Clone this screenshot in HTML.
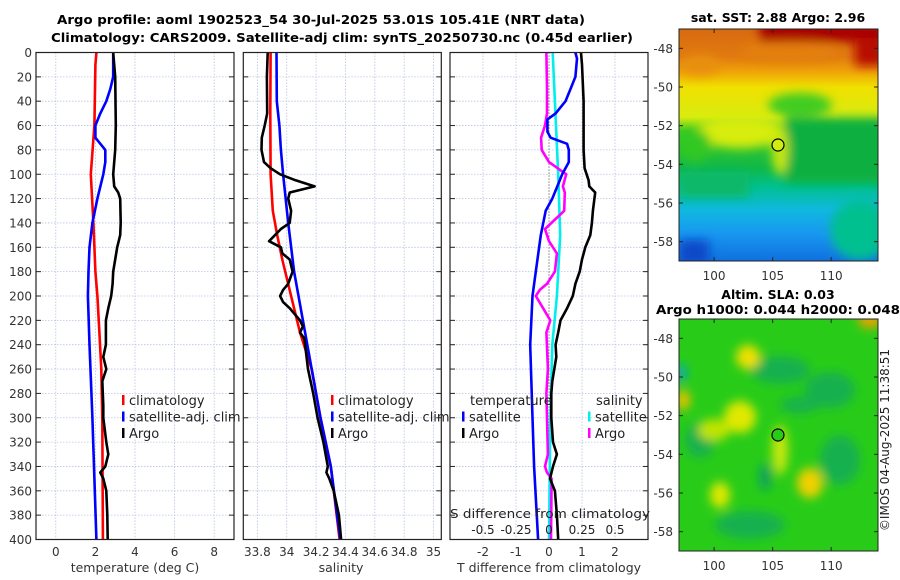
<!DOCTYPE html>
<html><head><meta charset="utf-8"><style>
html,body{margin:0;padding:0;background:#fff;}
svg{display:block;font-family:"DejaVu Sans","Liberation Sans",sans-serif;}
</style></head><body>
<svg id="fig" width="900" height="580" viewBox="0 0 900 580" xmlns="http://www.w3.org/2000/svg">
<defs>
<linearGradient id="sstGrad" x1="0" y1="0" x2="0" y2="1">
<stop offset="0" stop-color="#d86a10"/><stop offset="0.12" stop-color="#e07a10"/><stop offset="0.19" stop-color="#f0a808"/>
<stop offset="0.25" stop-color="#f0e000"/><stop offset="0.38" stop-color="#d8ec10"/><stop offset="0.44" stop-color="#40cc20"/>
<stop offset="0.6" stop-color="#10b848"/><stop offset="0.68" stop-color="#00c090"/><stop offset="0.78" stop-color="#10b8e0"/>
<stop offset="0.88" stop-color="#1898f0"/><stop offset="1" stop-color="#1070e0"/>
</linearGradient>
<clipPath id="clipMap1"><rect x="679" y="29" width="199" height="232"/></clipPath>
<clipPath id="clipMap2"><rect x="679" y="319" width="199" height="232"/></clipPath>
<filter id="blur4" x="-20%" y="-20%" width="140%" height="140%"><feGaussianBlur stdDeviation="5"/></filter>
</defs>
<g id="titles" font-weight="bold" font-size="12.5" text-anchor="middle">
<text x="321" y="24" textLength="528" lengthAdjust="spacingAndGlyphs">Argo profile: aoml 1902523_54 30-Jul-2025 53.01S 105.41E (NRT data)</text>
<text x="342" y="42" textLength="582" lengthAdjust="spacingAndGlyphs">Climatology: CARS2009. Satellite-adj clim: synTS_20250730.nc (0.45d earlier)</text>
<text x="778" y="22">sat. SST: 2.88 Argo: 2.96</text>
<text x="778" y="299">Altim. SLA: 0.03</text>
<text x="778" y="314" textLength="244" lengthAdjust="spacingAndGlyphs">Argo h1000: 0.044 h2000: 0.048</text>
</g>
<g id="panels"></g>
<g id="maps">
<g clip-path="url(#clipMap1)">
<rect x="679" y="29" width="199" height="232" fill="url(#sstGrad)"/>
<g filter="url(#blur4)">
<rect x="760" y="22" width="125" height="20" fill="#a80000"/>
<rect x="855" y="38" width="30" height="28" fill="#b80a00"/>
<ellipse cx="790" cy="52" rx="50" ry="10" fill="#e48010"/>
<ellipse cx="700" cy="65" rx="20" ry="10" fill="#e89010"/>
<ellipse cx="800" cy="105" rx="32" ry="12" fill="#40cc20"/>
<rect x="785" y="118" width="100" height="65" fill="#10b040"/>
<ellipse cx="740" cy="132" rx="45" ry="16" fill="#d8ec10"/>
<ellipse cx="695" cy="145" rx="16" ry="16" fill="#30c820"/>
<ellipse cx="780" cy="150" rx="8" ry="25" fill="#c8e810"/>
<rect x="679" y="172" width="70" height="25" fill="#10b868"/>
<ellipse cx="860" cy="230" rx="30" ry="30" fill="#00c090"/>
<rect x="679" y="240" width="30" height="25" fill="#0848c8"/>
</g>
</g>
<rect x="679" y="29" width="199" height="232" fill="none" stroke="#222" stroke-width="1"/>
<g clip-path="url(#clipMap2)">
<rect x="679" y="319" width="199" height="232" fill="#28cc18"/>
<g filter="url(#blur4)">
<ellipse cx="780" cy="370" rx="30" ry="14" fill="#18b050"/>
<ellipse cx="830" cy="390" rx="25" ry="18" fill="#18b050"/>
<ellipse cx="700" cy="440" rx="15" ry="18" fill="#18b050"/>
<ellipse cx="840" cy="460" rx="20" ry="25" fill="#18b050"/>
<ellipse cx="750" cy="525" rx="35" ry="14" fill="#18b050"/>
<ellipse cx="765" cy="477" rx="6" ry="14" fill="#10a060"/>
<ellipse cx="748" cy="357" rx="12" ry="12" fill="#f0e000"/>
<ellipse cx="740" cy="417" rx="16" ry="16" fill="#e0e800"/>
<ellipse cx="714" cy="430" rx="16" ry="11" fill="#c0e400"/>
<ellipse cx="810" cy="483" rx="13" ry="15" fill="#f0d000"/>
<ellipse cx="720" cy="495" rx="10" ry="13" fill="#e0e800"/>
<ellipse cx="683" cy="400" rx="7" ry="10" fill="#f0c000"/>
<ellipse cx="780" cy="450" rx="8" ry="25" fill="#c8e810"/>
<ellipse cx="870" cy="320" rx="12" ry="8" fill="#f0a000"/>
<ellipse cx="681" cy="373" rx="5" ry="9" fill="#10a0d0"/>
<ellipse cx="800" cy="405" rx="20" ry="8" fill="#18b050"/>
</g>
</g>
<rect x="679" y="319" width="199" height="232" fill="none" stroke="#222" stroke-width="1"/>
<circle cx="778" cy="145" r="6" fill="#d0ec10" stroke="#000" stroke-width="1.2"/>
<circle cx="778" cy="435" r="6" fill="#28cc18" stroke="#000" stroke-width="1.2"/>
<text x="889" y="440" font-size="12" fill="#222" text-anchor="middle" transform="rotate(-90 889 440)">©IMOS 04-Aug-2025 11:38:51</text>
</g>
<g id="mapaxes" font-size="12" fill="#333"></g>
</svg>
<script>
// ---- data (depth in m) ----
const tClimDepth = [0,10,60,100,140,180,200,230,260,300,400];
const tClimVal   = [2.05,2.0,1.95,1.77,1.9,2.0,2.1,2.2,2.3,2.35,2.38];
const tSatDepth  = [0,20,30,40,50,60,70,80,90,100,120,140,160,180,200,240,300,400];
const tSatVal    = [2.9,2.9,2.75,2.55,2.25,2.0,2.0,2.5,2.5,2.4,2.1,1.85,1.7,1.65,1.62,1.7,1.85,2.05];
const tArgoDepth = [0,20,60,80,100,110,115,120,140,150,160,170,180,190,200,210,220,240,250,260,270,290,300,320,330,340,345,350,360,380,400];
const tArgoVal   = [2.9,3.0,3.03,3.0,2.9,2.95,3.15,3.25,3.28,3.25,3.1,3.0,2.9,2.87,2.8,2.65,2.53,2.53,2.4,2.55,2.35,2.4,2.4,2.55,2.65,2.5,2.25,2.4,2.55,2.6,2.62];
const sClimDepth = [0,50,100,130,150,170,200,230,260,300,340,400];
const sClimVal   = [33.89,33.888,33.89,33.905,33.935,33.97,34.03,34.09,34.17,34.23,34.3,34.36];
const sSatDepth  = [0,40,60,80,100,140,180,220,260,300,340,400];
const sSatVal    = [33.93,33.932,33.95,33.96,33.975,34.01,34.05,34.11,34.17,34.23,34.3,34.365];
const sArgoDepth = [0,20,50,60,70,80,90,95,100,105,110,115,120,130,140,145,155,160,165,170,180,190,195,200,205,210,220,225,230,235,260,280,300,320,340,345,350,360,380,400];
const sArgoVal   = [33.87,33.865,33.867,33.85,33.83,33.828,33.845,33.89,33.955,34.06,34.19,34.02,34.01,34.03,34.02,33.96,33.88,33.96,33.97,34.02,34.04,34.01,33.975,33.955,33.975,34.02,34.09,34.11,34.09,34.12,34.145,34.18,34.21,34.25,34.28,34.27,34.29,34.32,34.355,34.37];
const dTSatDepth = [0,5,20,30,40,50,55,65,70,75,80,90,100,110,120,130,150,180,200,240,300,340,400];
const dTSatVal   = [0.8,0.85,0.8,0.65,0.5,0.2,-0.05,-0.05,0.05,0.55,0.6,0.6,0.4,0.25,0.1,-0.1,-0.25,-0.4,-0.5,-0.57,-0.5,-0.45,-0.33];
const dTArgoDepth= [0,10,40,80,95,105,110,115,130,140,150,160,170,180,190,200,210,220,230,240,250,260,270,280,300,320,330,340,350,360,380,400];
const dTArgoVal  = [0.97,1.0,1.05,1.05,1.08,1.2,1.22,1.4,1.33,1.3,1.25,1.1,1.0,0.93,0.8,0.72,0.55,0.35,0.28,0.2,0.22,0.16,0.1,0.07,0.07,0.12,0.24,0.12,0.03,0.18,0.24,0.28];
const dSSatDepth = [0,100,150,200,240,300,400];
const dSSatVal   = [0.028,0.07,0.085,0.06,0.025,0.01,0.0];
const dSArgoDepth= [0,30,50,60,70,80,90,100,110,115,130,145,155,165,180,190,195,200,210,220,230,260,280,300,330,340,345,350,400];
const dSArgoVal  = [-0.02,-0.015,-0.015,-0.03,-0.06,-0.055,0.0,0.13,0.105,0.12,0.115,-0.03,0.0,0.06,0.045,-0.015,-0.07,-0.1,-0.045,0.01,-0.02,-0.008,-0.02,-0.015,-0.008,-0.03,-0.015,0.02,0.015];
const depthTicks = [0,20,40,60,80,100,120,140,160,180,200,220,240,260,280,300,320,340,360,380,400];
const tTicks = [0,2,4,6,8];
const sTicks = [33.8,34,34.2,34.4,34.6,34.8,35];
const sTickLabels = ["33.8","34","34.2","34.4","34.6","34.8","35"];
const dTTicks = [-2,-1,0,1,2];
const dSTicks = [-0.5,-0.25,0,0.25,0.5];
const latTicks = [-48,-50,-52,-54,-56,-58];
const lonTicks = [100,105,110];

const NS="http://www.w3.org/2000/svg";
const Y0=52.5, Y1=539.5;
const yDepth = d => Y0 + (Y1-Y0)*d/400;
function mk(tag, attrs, parent){const e=document.createElementNS(NS,tag);for(const k in attrs)e.setAttribute(k,attrs[k]);parent.appendChild(e);return e;}
const panelsG=document.getElementById('panels');
const panels=[
 {name:'temperature', x0:36, x1:234, lo:-1, hi:9},
 {name:'salinity', x0:243.3, x1:441.3, lo:33.704, hi:35.053},
 {name:'difference', x0:450, x1:648, lo:-3, hi:3}
];
panels.forEach(p=>{p.sx=v=>p.x0+(p.x1-p.x0)*(v-p.lo)/(p.hi-p.lo);});
const dSx = v => panels[2].sx(v*4);

panels.forEach((p,i)=>{
  const g=mk('g',{},panelsG);
  
  
  depthTicks.forEach(d=>{
    const l=mk('line',{x1:p.x0,x2:p.x1,y1:yDepth(d),y2:yDepth(d),stroke:'#b8c4e0','stroke-width':0.8,'stroke-dasharray':'1.5 1.5'},g);
    
    
    mk('line',{x1:p.x0,x2:p.x0+5,y1:yDepth(d),y2:yDepth(d),stroke:'#222'},g);
    mk('line',{x1:p.x1-5,x2:p.x1,y1:yDepth(d),y2:yDepth(d),stroke:'#222'},g);
    if(i===0){const t=mk('text',{x:p.x0-4,y:yDepth(d)+4.5,'font-size':12,'text-anchor':'end',fill:'#333'},g);t.textContent=d;
      
      }
  });
  const ticks = i===0?tTicks:(i===1?sTicks:dTTicks);
  ticks.forEach((v,k)=>{
    const x=p.sx(v);
    mk('line',{x1:x,x2:x,y1:Y0,y2:Y1,stroke:'#b8c4e0','stroke-width':0.8,'stroke-dasharray':'1.5 1.5'},g);
    const t=mk('text',{x:x,y:556,'font-size':12,'text-anchor':'middle',fill:'#333'},g);
    t.textContent = i===1?sTickLabels[k]:v;
    
    
  });
  p.g=g;
});
mk('line',{x1:panels[2].sx(0),x2:panels[2].sx(0),y1:Y0,y2:Y1,stroke:'#555','stroke-width':1,'stroke-dasharray':'1 2'},panels[2].g);

function series(p, sx, depths, vals, color, name, w){
  const pts=depths.map((d,k)=>sx(vals[k]).toFixed(1)+','+yDepth(d).toFixed(1)).join(' ');
  const pl=mk('polyline',{points:pts,fill:'none',stroke:color,'stroke-width':w||2.6,'stroke-linejoin':'round'},p.g);
  
  
}
const P=panels;
series(P[0],P[0].sx,tClimDepth,tClimVal,'#ff0000','temperature-climatology-line');
series(P[0],P[0].sx,tSatDepth,tSatVal,'#0000ff','temperature-satellite-line');
series(P[0],P[0].sx,tArgoDepth,tArgoVal,'#000000','temperature-argo-line');
series(P[1],P[1].sx,sClimDepth,sClimVal,'#ff0000','salinity-climatology-line');
series(P[1],P[1].sx,sSatDepth,sSatVal,'#0000ff','salinity-satellite-line');
series(P[1],P[1].sx,sArgoDepth,sArgoVal,'#000000','salinity-argo-line');
series(P[2],dSx,dSSatDepth,dSSatVal,'#00eeee','salinity-diff-satellite-line');
series(P[2],dSx,dSArgoDepth,dSArgoVal,'#ff00ff','salinity-diff-argo-line');
series(P[2],P[2].sx,dTSatDepth,dTSatVal,'#0000ff','temperature-diff-satellite-line');
series(P[2],P[2].sx,dTArgoDepth,dTArgoVal,'#000000','temperature-diff-argo-line');

panels.forEach(p=>{mk('rect',{x:p.x0,y:Y0,width:p.x1-p.x0,height:Y1-Y0,fill:'none',stroke:'#222','stroke-width':1.2},p.g);});

function legend(p,x,y,items,title){
  const g=mk('g',{'font-size':13,fill:'#222'},p.g);
  
  
  if(title){const t=mk('text',{x:x+8,y:y,fill:'#222'},g);t.textContent=title;y+=16.5;}
  items.forEach(([c,l])=>{
    mk('rect',{x:x,y:y-10,width:2.5,height:10,fill:c},g);
    const t=mk('text',{x:x+7,y:y,fill:'#222'},g);t.textContent=l;
    
    
    y+=16.5;
  });
}
legend(P[0],122,405,[['#ff0000','climatology'],['#0000ff','satellite-adj. clim'],['#000','Argo']]);
legend(P[1],331,405,[['#ff0000','climatology'],['#0000ff','satellite-adj. clim'],['#000','Argo']]);
legend(P[2],462,405,[['#0000ff','satellite'],['#000','Argo']],'temperature');
legend(P[2],588,405,[['#00eeee','satellite'],['#ff00ff','Argo']],'salinity');
dSTicks.forEach(v=>{const t=mk('text',{x:dSx(v),y:534,'font-size':12,'text-anchor':'middle',fill:'#222'},P[2].g);t.textContent=v;
  
  });
{const t=mk('text',{x:450,y:518,'font-size':12.5,fill:'#222',textLength:200,lengthAdjust:'spacingAndGlyphs'},P[2].g);t.textContent='S difference from climatology';
 
 }
[[135,'temperature (deg C)','temperature-axis-title'],[341,'salinity','salinity-axis-title'],[549,'T difference from climatology','temperature-diff-axis-title']].forEach(([x,s,n])=>{
  const t=mk('text',{x:x,y:572,'font-size':12.5,'text-anchor':'middle',fill:'#333'},panelsG);t.textContent=s;
  
  
});
const ma=document.getElementById('mapaxes');
[[29,261],[319,551]].forEach(([top,bot])=>{
  const ly=v=>top+(bot-top)*(-47-v)/12;
  const lx=v=>679+199*(v-97)/17;
  latTicks.forEach(v=>{const y=ly(v);
    mk('line',{x1:679,x2:683,y1:y,y2:y,stroke:'#222'},ma);mk('line',{x1:874,x2:878,y1:y,y2:y,stroke:'#222'},ma);
    const t=mk('text',{x:673,y:y+4.5,'text-anchor':'end'},ma);t.textContent=v;
    
    });
  lonTicks.forEach(v=>{const x=lx(v);
    mk('line',{x1:x,x2:x,y1:bot-4,y2:bot,stroke:'#222'},ma);mk('line',{x1:x,x2:x,y1:top,y2:top+4,stroke:'#222'},ma);
    const t=mk('text',{x:x,y:bot+19,'text-anchor':'middle'},ma);t.textContent=v;
    
    });
});
</script>
</body></html>
